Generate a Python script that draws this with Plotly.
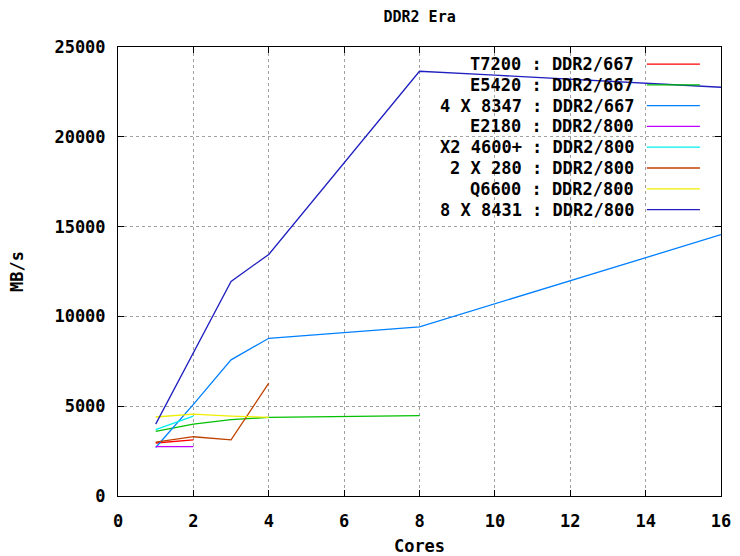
import plotly.graph_objects as go

# Memory bandwidth (MB/s) against number of active cores, per system
series_names = [
    "T7200 : DDR2/667",
    "E5420 : DDR2/667",
    "4 X 8347 : DDR2/667",
    "E2180 : DDR2/800",
    "X2 4600+ : DDR2/800",
    "2 X 280 : DDR2/800",
    "Q6600 : DDR2/800",
    "8 X 8431 : DDR2/800",
]

t7200_cores = [1, 2]
t7200_mbs = [2950, 3120]

e5420_cores = [1, 2, 3, 4, 8]
e5420_mbs = [3600, 4000, 4250, 4380, 4470]

opteron8347_cores = [1, 2, 3, 4, 8, 16]
opteron8347_mbs = [2700, 5100, 7580, 8780, 9420, 14550]

e2180_cores = [1, 2]
e2180_mbs = [2750, 2750]

x2_4600_cores = [1, 2]
x2_4600_mbs = [3700, 4450]

opteron280_cores = [1, 2, 3, 4]
opteron280_mbs = [3000, 3300, 3130, 6280]

q6600_cores = [1, 2, 3, 4]
q6600_mbs = [4400, 4560, 4450, 4380]

opteron8431_cores = [1, 2, 3, 4, 8, 10, 12, 14, 16]
opteron8431_mbs = [4000, 7950, 11950, 13450, 23650, 23430, 23200, 22950, 22760]

x_ticks = [0, 2, 4, 6, 8, 10, 12, 14, 16]
y_ticks = [0, 5000, 10000, 15000, 20000, 25000]
y_tick_labels = ["0", "5000", "10000", "15000", "20000", "25000"]

series_cores = [t7200_cores, e5420_cores, opteron8347_cores, e2180_cores,
                x2_4600_cores, opteron280_cores, q6600_cores, opteron8431_cores]
series_mbs = [t7200_mbs, e5420_mbs, opteron8347_mbs, e2180_mbs,
              x2_4600_mbs, opteron280_mbs, q6600_mbs, opteron8431_mbs]
colors = ["#ff0000", "#00c000", "#0080ff", "#c000ff",
          "#00eeee", "#c04000", "#eeee00", "#2020c0"]

FONT = dict(family="DejaVu Sans Mono", size=17, color="#000000", weight="bold")
TITLE_FONT = dict(family="DejaVu Sans Mono", size=15, color="#000000", weight="bold")

fig = go.Figure()
for name, xs, ys, c in zip(series_names, series_cores, series_mbs, colors):
    fig.add_trace(go.Scatter(x=xs, y=ys, mode="lines", name=name,
                             line=dict(color=c, width=1.3), showlegend=False))

# Key in the upper right: right-aligned labels followed by a line sample
key_text_x = 0.859
key_line_x0, key_line_x1 = 0.877, 0.965
key_top, key_step = 0.962, 0.0463
for i, (name, c) in enumerate(zip(series_names, colors)):
    yk = key_top - i * key_step
    fig.add_annotation(x=key_text_x, y=yk, xref="paper", yref="paper",
                       text=name, showarrow=False, xanchor="right",
                       yanchor="middle", font=FONT)
    fig.add_shape(type="line", xref="paper", yref="paper",
                  x0=key_line_x0, x1=key_line_x1, y0=yk, y1=yk,
                  line=dict(color=c, width=1.3))

axis_common = dict(
    showline=True, linecolor="#000000", linewidth=1, mirror="ticks",
    ticks="inside", ticklen=6, tickcolor="#000000", tickwidth=1,
    showgrid=True, gridcolor="#a0a0a0", griddash="dot", gridwidth=1,
    zeroline=False, tickfont=FONT, automargin=False,
)

fig.update_layout(
    width=740, height=556,
    margin=dict(l=118, r=19, t=47, b=60),
    paper_bgcolor="#ffffff", plot_bgcolor="#ffffff",
    title=dict(text="DDR2 Era", x=0.567, xanchor="center", y=0.97,
               yanchor="middle", font=TITLE_FONT),
    xaxis=dict(range=[0, 16], tickvals=x_ticks, ticklabelstandoff=10,
               title=dict(text="Cores", font=FONT, standoff=14), **axis_common),
    yaxis=dict(range=[0, 25000], tickvals=y_ticks, ticktext=y_tick_labels,
               ticklabelstandoff=8,
               title=dict(text="MB/s", font=FONT, standoff=26), **axis_common),
)

fig.write_html("out.html")
